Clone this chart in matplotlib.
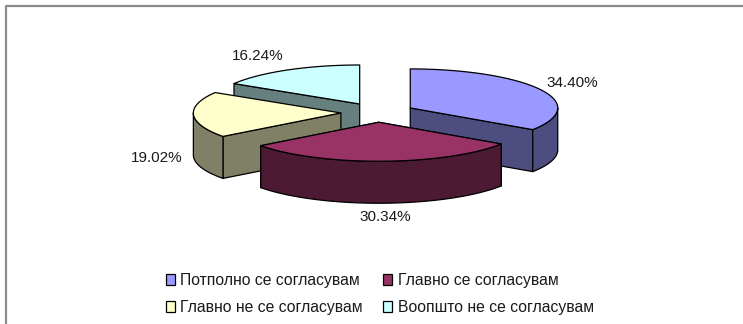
import numpy as np
import matplotlib
matplotlib.use("Agg")
import matplotlib.pyplot as plt
from matplotlib.patches import Polygon, Patch

plt.rcParams['font.family'] = ['Liberation Sans', 'DejaVu Sans']

# --- data ---
labels = ['Потполно се согласувам', 'Главно се согласувам',
          'Главно не се согласувам', 'Воопшто не се согласувам']
values = [34.40, 30.34, 19.02, 16.24]
top_colors = ['#9999FF', '#993366', '#FFFFCC', '#CCFFFF']
side_colors = ['#4D4D80', '#4D1A33', '#808066', '#668080']

# --- pie geometry, in pixels of the 743x324 picture ---
CX, CY = 377.7, 112.5
RX, RY = 147.5, 39.0
DEPTH = 42.0
EXPLODE = 0.25
LABEL_POS = [(572, 83), (385, 217), (157, 158), (258, 56)]

fig = plt.figure(figsize=(7.43, 3.24), dpi=100)
ax = fig.add_axes([0, 0, 1, 1])
ax.set_xlim(0, 743)
ax.set_ylim(324, 0)
ax.axis('off')

# chart frame, only top and left are in the crop
ax.plot([6, 6, 743], [324, 6, 6], color='#8C8C8C', lw=1.6, solid_capstyle='butt')


def point(a, ax0, ay0):
    # a is clockwise from 12 o'clock, in degrees
    t = np.radians(a)
    return ax0 + RX * np.sin(t), ay0 - RY * np.cos(t)


bounds = np.concatenate([[0], np.cumsum(values)]) / sum(values) * 360
slices = []
for i in range(len(values)):
    a0, a1 = bounds[i], bounds[i + 1]
    mid = np.radians((a0 + a1) / 2)
    slices.append((i, a0, a1, CX + EXPLODE * RX * np.sin(mid), CY - EXPLODE * RY * np.cos(mid)))

# paint from back to front
for i, a0, a1, x0, y0 in sorted(slices, key=lambda s: s[4]):
    kw = dict(edgecolor='black', linewidth=0.9, joinstyle='round')
    # straight cut faces that look towards the viewer
    for a in (a0, a1):
        px, py = point(a, x0, y0)
        if py > y0:
            ax.add_patch(Polygon([(x0, y0), (px, py), (px, py + DEPTH), (x0, y0 + DEPTH)],
                                 facecolor=side_colors[i], **kw))
    if i == 3:
        # this cut face shows above the next slice
        px, py = point(a0, x0, y0)
        ax.add_patch(Polygon([(x0, y0), (px, py), (px, py + DEPTH), (x0, y0 + DEPTH)],
                             facecolor=side_colors[i], **kw))
    # outer rim, front half only
    lo, hi = max(a0, 90), min(a1, 270)
    if lo < hi:
        arc = np.linspace(lo, hi, 60)
        xs, ys = point(arc, x0, y0)
        rim = list(zip(xs, ys)) + list(zip(xs[::-1], ys[::-1] + DEPTH))
        ax.add_patch(Polygon(rim, facecolor=side_colors[i], **kw))
    # top face
    arc = np.linspace(a0, a1, 80)
    xs, ys = point(arc, x0, y0)
    ax.add_patch(Polygon([(x0, y0)] + list(zip(xs, ys)), facecolor=top_colors[i], **kw))

for v, (lx, ly) in zip(values, LABEL_POS):
    ax.text(lx, ly, f'{v:.2f}%', ha='center', va='center', fontsize=11, color='#1a1a1a')

handles = [Patch(facecolor=c, edgecolor='black', linewidth=0.9) for c in top_colors]
# legend fills by column, so order the entries to read across the rows
order = [0, 2, 1, 3]
ax.legend([handles[k] for k in order], [labels[k] for k in order], ncol=2,
          loc='center', bbox_to_anchor=(380, 294), bbox_transform=ax.transData,
          frameon=False, fontsize=11.3, handlelength=0.55, handleheight=0.7,
          handletextpad=0.35, columnspacing=1.3, labelspacing=0.8, borderpad=0,
          labelcolor='#1a1a1a')

fig.savefig('out.png', dpi=100)
